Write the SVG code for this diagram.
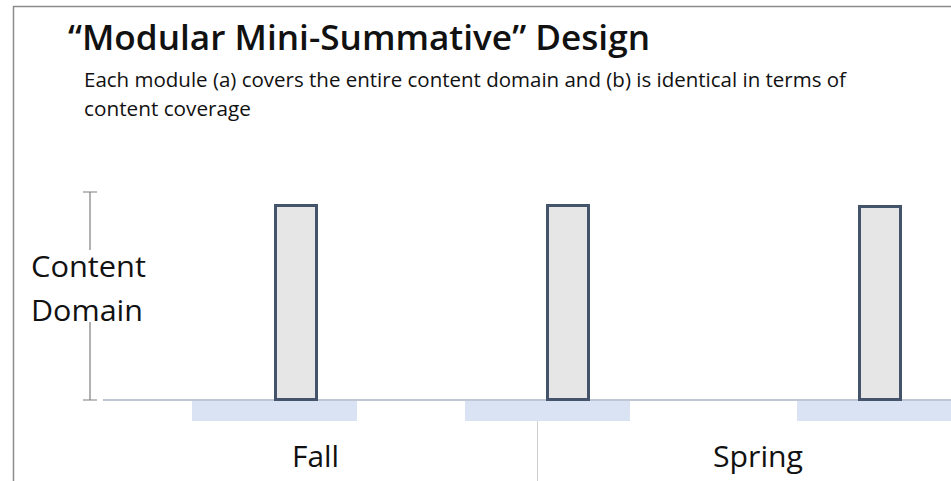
<svg xmlns="http://www.w3.org/2000/svg" width="951" height="481" viewBox="0 0 951 481">
<style>
.t{font-family:"Open Sans","Liberation Sans",sans-serif;fill:#111;}
.mod{fill:#e6e6e6;stroke:#44546a;stroke-width:3;}
.band{fill:#dae3f3;}
.ax{stroke:#7f7f7f;stroke-width:1.2;fill:none;}
</style>
<rect width="951" height="481" fill="#fff"/>
<path d="M13.5 481 V6.5 H951" stroke="#8c8c8c" stroke-width="1.5" fill="none"/>
<text class="t" x="68" y="50" font-size="34" font-weight="600" textLength="582" lengthAdjust="spacingAndGlyphs">“Modular Mini-Summative” Design</text>
<text class="t" x="84" y="86.5" font-size="19.5" textLength="762" lengthAdjust="spacingAndGlyphs">Each module (a) covers the entire content domain and (b) is identical in terms of</text>
<text class="t" x="84" y="115.5" font-size="19.5" textLength="167" lengthAdjust="spacingAndGlyphs">content coverage</text>
<g id="axis">
<path class="ax" d="M83 192 H97 M90 192 V250 M90 322 V400 M83 400 H97"/>
<text class="t" x="31" y="277" font-size="30" textLength="115" lengthAdjust="spacingAndGlyphs">Content</text>
<text class="t" x="31" y="321" font-size="30" textLength="112" lengthAdjust="spacingAndGlyphs">Domain</text>
</g>
<line x1="103" y1="400" x2="951" y2="400" stroke="#a8b4c4" stroke-width="1.5"/>
<line x1="537.5" y1="421" x2="537.5" y2="481" stroke="#d0d0d0" stroke-width="1"/>
<g id="bands">
<rect class="band" x="192" y="401" width="165" height="20"/>
<rect class="band" x="465" y="401" width="165" height="20"/>
<rect class="band" x="797" y="401" width="154" height="20"/>
</g>
<g id="module1"><rect class="mod" x="275.5" y="205.5" width="41" height="194"/></g>
<g id="module2"><rect class="mod" x="547.5" y="205.5" width="41" height="194"/></g>
<g id="module3"><rect class="mod" x="859.5" y="206.5" width="41" height="193"/></g>
<text class="t" x="315.5" y="467" font-size="30" text-anchor="middle" textLength="47" lengthAdjust="spacingAndGlyphs">Fall</text>
<text class="t" x="758" y="467" font-size="30" text-anchor="middle" textLength="90" lengthAdjust="spacingAndGlyphs">Spring</text>
</svg>
